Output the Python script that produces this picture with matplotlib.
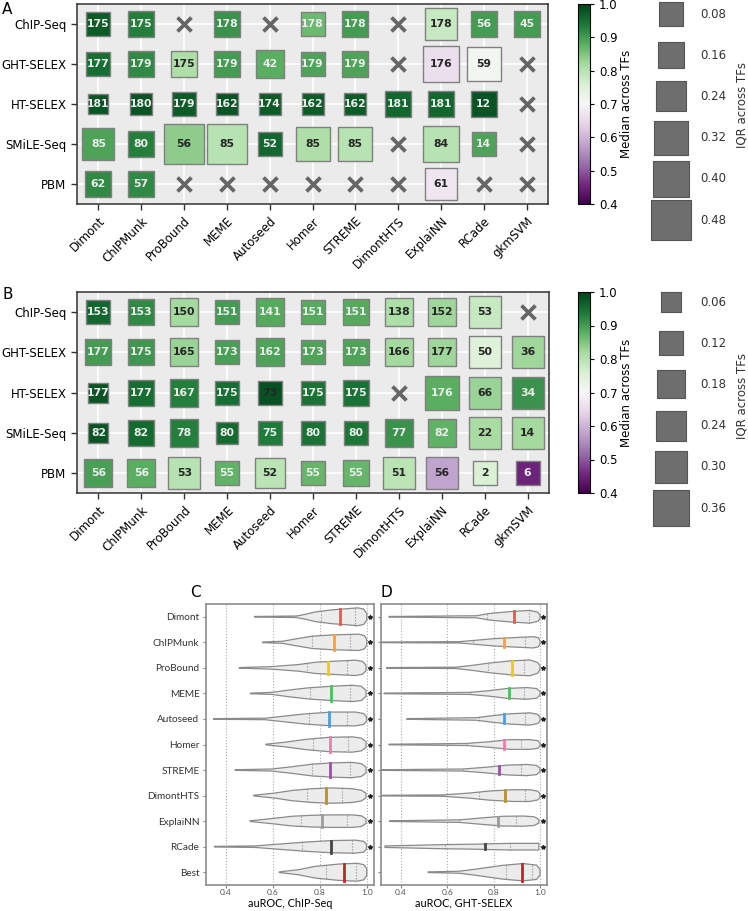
import numpy as np
import matplotlib
matplotlib.use("Agg")
import matplotlib.pyplot as plt
from matplotlib.colors import Normalize
from matplotlib.cm import ScalarMappable

nan = np.nan

methods = ["Dimont", "ChIPMunk", "ProBound", "MEME", "Autoseed", "Homer",
           "STREME", "DimontHTS", "ExplaiNN", "RCade", "gkmSVM"]
platforms = ["ChIP-Seq", "GHT-SELEX", "HT-SELEX", "SMiLE-Seq", "PBM"]

# panel A: number of TFs, median and IQR across TFs (None / nan = not available)
A_counts = [
    [175, 175, None, 178, None, 178, 178, None, 178, 56, 45],
    [177, 179, 175, 179, 42, 179, 179, None, 176, 59, None],
    [181, 180, 179, 162, 174, 162, 162, 181, 181, 12, None],
    [85, 80, 56, 85, 52, 85, 85, None, 84, 14, None],
    [62, 57, None, None, None, None, None, None, 61, None, None],
]
A_median = [
    [0.97, 0.93, nan, 0.91, nan, 0.865, 0.90, nan, 0.78, 0.90, 0.90],
    [0.95, 0.92, 0.81, 0.90, 0.88, 0.89, 0.89, nan, 0.66, 0.71, nan],
    [0.98, 0.98, 0.97, 0.98, 0.97, 0.97, 0.97, 0.96, 0.96, 0.98, nan],
    [0.89, 0.93, 0.84, 0.80, 0.96, 0.81, 0.80, nan, 0.80, 0.89, nan],
    [0.92, 0.92, nan, nan, nan, nan, nan, nan, 0.67, nan, nan],
]
A_iqr = [
    [0.10, 0.14, nan, 0.12, nan, 0.08, 0.14, nan, 0.26, 0.16, 0.14],
    [0.08, 0.14, 0.16, 0.12, 0.18, 0.08, 0.14, nan, 0.37, 0.31, nan],
    [0.03, 0.045, 0.08, 0.045, 0.06, 0.045, 0.045, 0.14, 0.16, 0.12, nan],
    [0.28, 0.12, 0.48, 0.48, 0.08, 0.31, 0.31, nan, 0.37, 0.08, nan],
    [0.12, 0.16, nan, nan, nan, nan, nan, nan, 0.26, nan, nan],
]
A_legend = [0.08, 0.16, 0.24, 0.32, 0.40, 0.48]

# panel B
B_counts = [
    [153, 153, 150, 151, 141, 151, 151, 138, 152, 53, None],
    [177, 175, 165, 173, 162, 173, 173, 166, 177, 50, 36],
    [177, 177, 167, 175, 73, 175, 175, None, 176, 66, 34],
    [82, 82, 78, 80, 75, 80, 80, 77, 82, 22, 14],
    [56, 56, 53, 55, 52, 55, 55, 51, 56, 2, 6],
]
B_median = [
    [0.96, 0.92, 0.82, 0.90, 0.885, 0.885, 0.885, 0.81, 0.825, 0.78, nan],
    [0.90, 0.905, 0.83, 0.895, 0.89, 0.89, 0.89, 0.82, 0.825, 0.75, 0.825],
    [0.98, 0.95, 0.93, 0.95, 0.985, 0.945, 0.945, nan, 0.88, 0.83, 0.91],
    [0.98, 0.955, 0.93, 0.955, 0.935, 0.945, 0.94, 0.91, 0.875, 0.815, 0.82],
    [0.895, 0.88, 0.80, 0.875, 0.795, 0.87, 0.87, 0.795, 0.58, 0.755, 0.45],
]
B_iqr = [
    [0.094, 0.15, 0.19, 0.13, 0.17, 0.094, 0.15, 0.19, 0.19, 0.305, nan],
    [0.15, 0.15, 0.19, 0.13, 0.17, 0.11, 0.15, 0.21, 0.19, 0.305, 0.28],
    [0.06, 0.15, 0.17, 0.13, 0.094, 0.11, 0.15, nan, 0.33, 0.26, 0.28],
    [0.06, 0.15, 0.17, 0.077, 0.11, 0.094, 0.13, 0.17, 0.19, 0.26, 0.26],
    [0.19, 0.19, 0.26, 0.13, 0.23, 0.11, 0.15, 0.305, 0.28, 0.11, 0.11],
]
B_legend = [0.06, 0.12, 0.18, 0.24, 0.30, 0.36]
B_dark_override = [(2, 4)]

# panels C / D: violin outlines (x, half width in rows), quartiles
viol_names = ["Dimont", "ChIPMunk", "ProBound", "MEME", "Autoseed", "Homer",
              "STREME", "DimontHTS", "ExplaiNN", "RCade", "Best"]
viol_colors = ["#ef5450", "#f7a040", "#e8d000", "#4dbf55", "#4a9fe0", "#f07ab0",
               "#9b4fa8", "#b8902a", "#9a9a9a", "#444444", "#c8202c"]

C_x = [
    [0.522, 0.70, 0.74, 0.78, 0.85, 0.92, 0.96, 0.985, 0.998],
    [0.556, 0.64, 0.695, 0.766, 0.851, 0.93, 0.965, 0.988, 0.998],
    [0.457, 0.596, 0.709, 0.78, 0.88, 0.95, 0.98, 0.995],
    [0.505, 0.596, 0.667, 0.752, 0.851, 0.936, 0.975, 0.995],
    [0.348, 0.567, 0.638, 0.738, 0.851, 0.95, 0.985, 0.997],
    [0.57, 0.652, 0.738, 0.837, 0.936, 0.975, 0.995],
    [0.44, 0.596, 0.681, 0.766, 0.851, 0.936, 0.975, 0.995],
    [0.518, 0.61, 0.68, 0.766, 0.851, 0.936, 0.975, 0.995],
    [0.503, 0.596, 0.681, 0.766, 0.851, 0.936, 0.975, 0.995],
    [0.352, 0.525, 0.624, 0.738, 0.851, 0.95, 0.985, 0.997],
    [0.627, 0.709, 0.78, 0.88, 0.957, 0.985, 0.998],
]
C_hw = [
    [0.012, 0.03, 0.10, 0.19, 0.27, 0.32, 0.35, 0.30, 0.13],
    [0.012, 0.04, 0.13, 0.24, 0.29, 0.31, 0.32, 0.26, 0.11],
    [0.012, 0.05, 0.13, 0.22, 0.27, 0.30, 0.25, 0.11],
    [0.012, 0.04, 0.13, 0.22, 0.28, 0.32, 0.28, 0.11],
    [0.012, 0.03, 0.10, 0.20, 0.27, 0.27, 0.21, 0.09],
    [0.012, 0.09, 0.20, 0.28, 0.30, 0.25, 0.11],
    [0.012, 0.04, 0.13, 0.23, 0.28, 0.30, 0.25, 0.11],
    [0.012, 0.10, 0.20, 0.27, 0.30, 0.27, 0.21, 0.09],
    [0.012, 0.10, 0.19, 0.23, 0.245, 0.245, 0.21, 0.09],
    [0.012, 0.03, 0.10, 0.18, 0.24, 0.255, 0.21, 0.09],
    [0.012, 0.10, 0.23, 0.32, 0.35, 0.30, 0.13],
]
C_q1 = [0.806, 0.766, 0.745, 0.759, 0.755, 0.77, 0.766, 0.745, 0.72, 0.723, 0.826]
C_med = [0.885, 0.857, 0.835, 0.848, 0.84, 0.844, 0.844, 0.824, 0.81, 0.845, 0.90]
C_q3 = [0.95, 0.929, 0.915, 0.929, 0.916, 0.918, 0.926, 0.892, 0.915, 0.936, 0.953]

D_x = [
    [0.349, 0.725, 0.783, 0.869, 0.956, 0.99, 1.0],
    [0.306, 0.653, 0.71, 0.797, 0.898, 0.97, 0.992, 1.0],
    [0.339, 0.638, 0.71, 0.783, 0.869, 0.956, 0.99, 1.0],
    [0.328, 0.696, 0.783, 0.855, 0.942, 0.985, 1.0],
    [0.426, 0.725, 0.797, 0.869, 0.956, 0.99, 1.0],
    [0.349, 0.682, 0.783, 0.869, 0.956, 0.99, 1.0],
    [0.309, 0.667, 0.768, 0.855, 0.942, 0.985, 1.0],
    [0.309, 0.58, 0.696, 0.783, 0.884, 0.956, 0.99, 1.0],
    [0.352, 0.653, 0.768, 0.84, 0.927, 0.975, 0.995],
    [0.332, 0.436, 0.58, 0.725, 0.869, 0.985, 0.995],
    [0.518, 0.653, 0.739, 0.84, 0.927, 0.985, 1.0],
]
D_hw = [
    [0.012, 0.04, 0.13, 0.20, 0.25, 0.18, 0.07],
    [0.012, 0.026, 0.07, 0.14, 0.19, 0.22, 0.18, 0.07],
    [0.012, 0.026, 0.10, 0.19, 0.27, 0.31, 0.21, 0.07],
    [0.012, 0.04, 0.11, 0.19, 0.23, 0.19, 0.07],
    [0.012, 0.05, 0.13, 0.20, 0.24, 0.18, 0.07],
    [0.012, 0.04, 0.11, 0.19, 0.19, 0.15, 0.06],
    [0.012, 0.04, 0.11, 0.19, 0.22, 0.18, 0.07],
    [0.012, 0.026, 0.10, 0.18, 0.23, 0.23, 0.17, 0.07],
    [0.012, 0.05, 0.14, 0.19, 0.20, 0.17, 0.07],
    [0.03, 0.05, 0.08, 0.10, 0.13, 0.13, 0.13],
    [0.012, 0.04, 0.14, 0.27, 0.34, 0.28, 0.11],
]
D_q1 = [0.773, 0.71, 0.775, 0.699, 0.739, 0.684, 0.67, 0.735, 0.653, 0.589, 0.852]
D_med = [0.889, 0.846, 0.878, 0.866, 0.846, 0.843, 0.825, 0.848, 0.82, 0.765, 0.924]
D_q3 = [0.952, 0.934, 0.93, 0.931, 0.937, 0.92, 0.917, 0.936, 0.895, 0.872, 0.967]

W, H = 748, 911
fig = plt.figure(figsize=(W / 100, H / 100), dpi=100)
cmap = plt.get_cmap("PRGn")
norm = Normalize(0.4, 1.0)


def box(l, t, r, b):
    return [l / W, 1 - b / H, (r - l) / W, (b - t) / H]


def side_A(v):
    return np.sqrt(331 + 2480 * np.asarray(v, float)) * 0.72


def side_B(v):
    return np.sqrt(280 + 2650 * np.asarray(v, float)) * 0.72


def heatmap(ax, cax, counts, med, iqr, side_fn, dark_override=()):
    ax.set_facecolor("#ebebeb")
    for i, row in enumerate(counts):
        for j, n in enumerate(row):
            if n is None:
                ax.scatter(j, i, marker="x", s=100, color="#666666", linewidths=2.7, zorder=3)
                continue
            m = med[i][j]
            ax.scatter(j, i, marker="s", s=side_fn(iqr[i][j]) ** 2, color=cmap(norm(m)),
                       edgecolors="#808080", linewidths=1.0, zorder=3)
            dark = (0.5 <= m < 0.855) or (i, j) in dark_override
            ax.text(j, i, str(n), ha="center", va="center", fontsize=7.8, fontweight="bold",
                    color="#262626" if dark else "#ececec", zorder=4)
    ax.set_xlim(-0.5, len(methods) - 0.5)
    ax.set_ylim(len(platforms) - 0.5, -0.5)
    ax.set_xticks(range(len(methods)))
    ax.set_xticklabels(methods, rotation=45, ha="right", rotation_mode="anchor", fontsize=8.5)
    ax.set_yticks(range(len(platforms)))
    ax.set_yticklabels(platforms, fontsize=8.5)
    ax.grid(True, color="white", linewidth=1.2)
    ax.set_axisbelow(True)
    ax.tick_params(length=4, width=1, color="#333333")
    for s in ax.spines.values():
        s.set_color("#333333")
        s.set_linewidth(1.1)
    cb = fig.colorbar(ScalarMappable(norm=norm, cmap=cmap), cax=cax)
    cb.set_ticks([0.4, 0.5, 0.6, 0.7, 0.8, 0.9, 1.0])
    cb.ax.tick_params(labelsize=8.5, length=3)
    cb.set_label("Median across TFs", fontsize=8.5, labelpad=2)


axA = fig.add_axes(box(77, 4, 548, 204))
caxA = fig.add_axes(box(578, 4, 590, 204))
heatmap(axA, caxA, A_counts, A_median, A_iqr, side_A)

axB = fig.add_axes(box(77, 292, 549, 493))
caxB = fig.add_axes(box(578, 292, 590, 493))
heatmap(axB, caxB, B_counts, B_median, B_iqr, side_B, B_dark_override)

# size legends
lax = fig.add_axes([0, 0, 1, 1])
lax.set_xlim(0, W)
lax.set_ylim(H, 0)
lax.axis("off")
for vals, fn, y0, yc in [(A_legend, side_A, 14, 105), (B_legend, side_B, 302, 396)]:
    for k, v in enumerate(vals):
        y = y0 + k * 41.2
        lax.scatter(671, y, marker="s", s=fn(v) ** 2, color="#6e6e6e",
                    edgecolors="#555555", linewidths=0.8)
        lax.text(700, y, f"{v:.2f}", ha="left", va="center", fontsize=8.5, color="#333333")
    lax.text(742, yc, "IQR across TFs", rotation=90, ha="center", va="center",
             fontsize=8.5, color="#333333")


def violins(ax, xs, hws, q1, med, q3, show_labels):
    for i in range(len(viol_names)):
        x = np.asarray(xs[i])
        h = np.asarray(hws[i])
        px = np.concatenate([x, x[::-1]])
        py = np.concatenate([i - h, (i + h)[::-1]])
        ax.fill(px, py, facecolor="#ececec", edgecolor="#8a8a8a", linewidth=0.9,
                joinstyle="round", zorder=2)
        for q, c, ls, lw in [(q1[i], "#8a8a8a", ":", 0.8), (q3[i], "#8a8a8a", ":", 0.8),
                             (med[i], viol_colors[i], "-", 2.0)]:
            hh = np.interp(q, x, h)
            ax.plot([q, q], [i - hh, i + hh], color=c, linestyle=ls, linewidth=lw, zorder=3)
        if i < len(viol_names) - 1:
            ax.plot(1.012, i, marker="*", markersize=3, color="#222222", zorder=3)
    ax.set_xlim(0.315, 1.03)
    ax.set_ylim(len(viol_names) - 0.5, -0.5)
    ax.set_xticks([0.4, 0.6, 0.8, 1.0])
    ax.set_xticklabels(["0.4", "0.6", "0.8", "1.0"], fontsize=6, family="Lato", color="#555555")
    ax.set_yticks(range(len(viol_names)))
    if show_labels:
        ax.set_yticklabels(viol_names, fontsize=7.2, family="Lato", color="#333333")
    else:
        ax.set_yticklabels([])
    ax.grid(True, axis="x", linestyle=":", color="#aaaaaa", linewidth=0.8)
    ax.set_axisbelow(True)
    ax.tick_params(axis="y", length=2.5, width=0.8, color="#888888", pad=2)
    ax.tick_params(axis="x", length=2, width=0.8, color="#888888", pad=1)
    for s in ax.spines.values():
        s.set_color("#8c8c8c")
        s.set_linewidth(1.2)


axC = fig.add_axes(box(205.7, 604, 374.3, 885))
violins(axC, C_x, C_hw, C_q1, C_med, C_q3, True)
axC.set_xlabel("auROC, ChIP-Seq", fontsize=7.8, family="Lato", labelpad=1)

axD = fig.add_axes(box(381, 604, 547, 885))
violins(axD, D_x, D_hw, D_q1, D_med, D_q3, False)
axD.set_xlabel("auROC, GHT-SELEX", fontsize=7.8, family="Lato", labelpad=1)

for lab, x, y in [("A", 2, 2), ("B", 2, 287), ("C", 190, 585), ("D", 380, 585)]:
    fig.text(x / W, 1 - y / H, lab, fontsize=11, ha="left", va="top")

fig.savefig("out.png", dpi=100)
